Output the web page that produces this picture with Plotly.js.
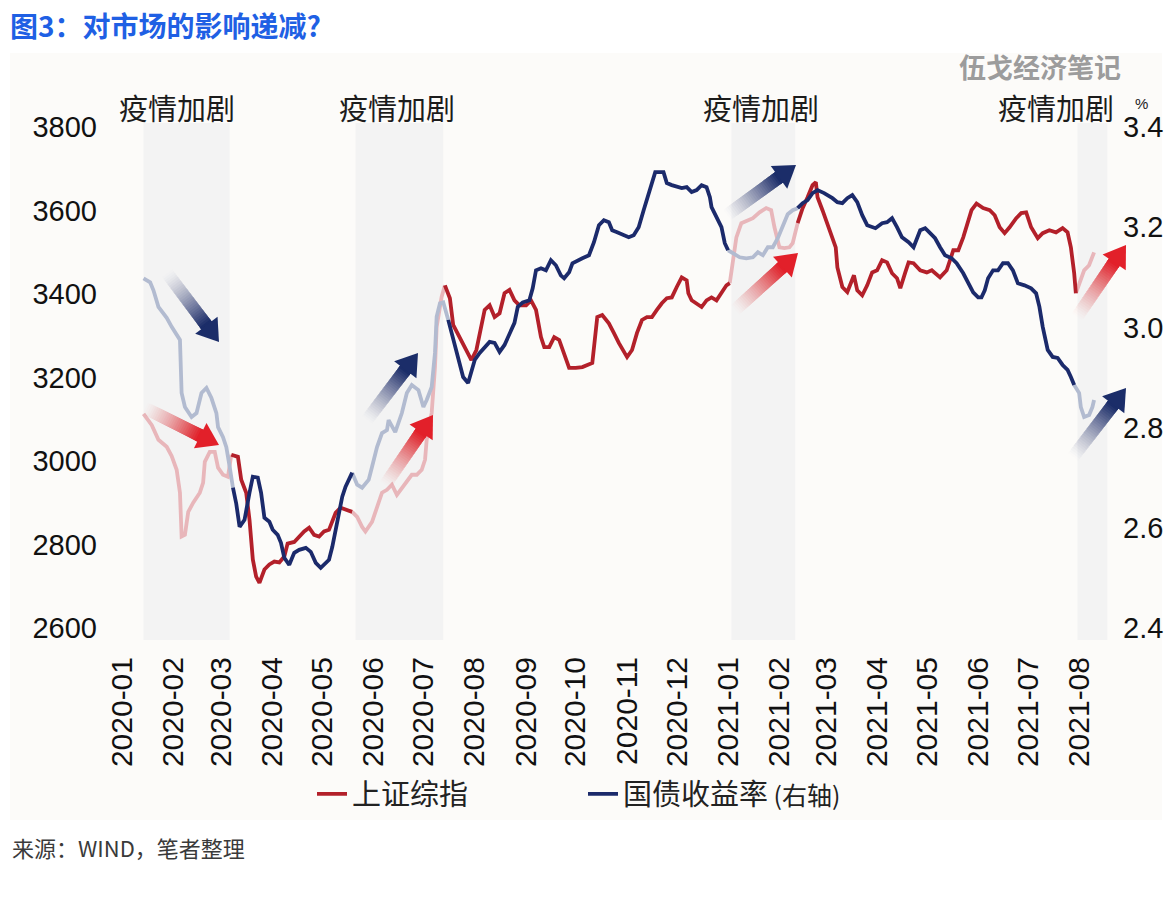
<!DOCTYPE html>
<html><head><meta charset="utf-8">
<script src="https://cdn.plot.ly/plotly-3.0.1.min.js"></script>
<style>html,body{margin:0;padding:0;background:#fff;}#chart{width:1174px;height:902px;}</style>
</head><body><div id="chart"></div>
<script>
// ---------------- DATA ----------------
const shDates = ['2020-01-14','2020-01-19','2020-01-23','2020-01-28','2020-01-31','2020-02-03','2020-02-05','2020-02-06','2020-02-08','2020-02-10','2020-02-13','2020-02-17','2020-02-19','2020-02-20','2020-02-23','2020-02-26','2020-02-28','2020-03-02','2020-03-05',
'2020-03-07','2020-03-11','2020-03-13','2020-03-16','2020-03-18','2020-03-20','2020-03-22','2020-03-24','2020-03-27','2020-03-30','2020-04-02','2020-04-05','2020-04-08','2020-04-10','2020-04-14','2020-04-17','2020-04-20','2020-04-23','2020-04-26','2020-04-29','2020-05-02','2020-05-05','2020-05-07','2020-05-09','2020-05-12','2020-05-15','2020-05-19',
'2020-05-22','2020-05-25','2020-05-27','2020-05-31','2020-06-03','2020-06-06','2020-06-09','2020-06-12','2020-06-15','2020-06-18','2020-06-21','2020-06-24','2020-06-27','2020-06-30','2020-07-02','2020-07-03','2020-07-06','2020-07-08','2020-07-09','2020-07-12',
'2020-07-14','2020-07-17','2020-07-19','2020-07-22','2020-07-25','2020-07-28','2020-07-30','2020-08-02','2020-08-05','2020-08-07','2020-08-10','2020-08-13','2020-08-16','2020-08-19','2020-08-22','2020-08-25','2020-08-28','2020-09-01','2020-09-04','2020-09-07','2020-09-10','2020-09-12','2020-09-15','2020-09-18','2020-09-21','2020-09-24','2020-09-27','2020-10-01','2020-10-05','2020-10-11','2020-10-14','2020-10-17','2020-10-21','2020-10-24','2020-10-27','2020-11-01','2020-11-04','2020-11-07','2020-11-10','2020-11-13','2020-11-16','2020-11-19','2020-11-22','2020-11-25','2020-11-28','2020-12-01','2020-12-04','2020-12-07','2020-12-08','2020-12-10','2020-12-13','2020-12-16','2020-12-19','2020-12-22','2020-12-25','2020-12-28','2020-12-31','2021-01-02',
'2021-01-04','2021-01-06','2021-01-09','2021-01-13','2021-01-16','2021-01-20','2021-01-24','2021-01-27','2021-01-29','2021-02-01','2021-02-04','2021-02-07','2021-02-09',
'2021-02-12','2021-02-15','2021-02-18','2021-02-21','2021-02-23','2021-02-24','2021-02-27','2021-03-02','2021-03-05','2021-03-07','2021-03-08','2021-03-11','2021-03-14','2021-03-17','2021-03-18','2021-03-20','2021-03-23','2021-03-26','2021-03-29','2021-04-01','2021-04-04','2021-04-07','2021-04-10','2021-04-13','2021-04-15','2021-04-18','2021-04-20','2021-04-23','2021-04-27','2021-05-01','2021-05-04','2021-05-09','2021-05-13','2021-05-17','2021-05-20','2021-05-23','2021-05-25','2021-05-28','2021-05-31','2021-06-04','2021-06-08','2021-06-11','2021-06-14','2021-06-17','2021-06-20','2021-06-24','2021-06-27','2021-06-30','2021-07-03','2021-07-07','2021-07-10','2021-07-14','2021-07-18','2021-07-22','2021-07-25','2021-07-27','2021-07-29','2021-07-30',
'2021-08-02','2021-08-04','2021-08-07','2021-08-09','2021-08-10'];
const shValues = [3113,3086,3051,3034,3012,2979,2924,2819,2823,2878,2900,2924,2948,2998,3022,3022,2984,2967,2962,
3015,3010,2955,2924,2859,2764,2723,2708,2740,2752,2759,2757,2771,2802,2806,2819,2831,2840,2823,2819,2831,2835,2859,2876,2888,2883,2878,
2866,2842,2831,2854,2890,2924,2931,2943,2919,2936,2950,2967,2967,2979,3003,3051,3115,3225,3321,3393,
3421,3390,3326,3302,3283,3259,3242,3266,3321,3362,3373,3345,3354,3402,3410,3385,3373,3373,3385,3362,3297,3273,3273,3297,3290,3259,3223,3223,3225,3235,3345,3350,3330,3307,3283,3249,3266,3307,3338,3345,3345,3362,3378,3390,3392,3417,3440,3433,3402,3385,3378,3369,3385,3392,3385,3402,3421,3426,
3481,3536,3570,3577,3582,3596,3606,3601,3560,3512,3510,3512,3522,
3570,3606,3632,3661,3668,3632,3601,3570,3536,3512,3464,3417,3405,3440,3445,3409,3397,3421,3452,3457,3481,3476,3450,3438,3414,3452,3476,3474,3457,3452,3457,3440,3457,3505,3505,3536,3560,3601,3617,3606,3601,3589,3560,3546,3560,3582,3594,3596,3560,3534,3546,3553,3548,3558,3548,3512,3450,3402,
3433,3457,3469,3488,3500];

const bondDates = ['2020-01-14','2020-01-18','2020-01-20','2020-01-23','2020-01-28','2020-01-31','2020-02-05','2020-02-06','2020-02-08','2020-02-12','2020-02-15','2020-02-18','2020-02-21','2020-02-24','2020-02-27','2020-02-28','2020-03-02','2020-03-04','2020-03-06',
'2020-03-08','2020-03-10','2020-03-12','2020-03-15','2020-03-18','2020-03-20','2020-03-23','2020-03-25','2020-03-27','2020-03-30','2020-04-01','2020-04-04','2020-04-06','2020-04-08','2020-04-11','2020-04-14','2020-04-17','2020-04-21','2020-04-24','2020-04-27','2020-04-30','2020-05-03','2020-05-05','2020-05-07','2020-05-09','2020-05-11','2020-05-13','2020-05-15','2020-05-17','2020-05-19',
'2020-05-22','2020-05-25','2020-05-29','2020-05-31','2020-06-03','2020-06-06','2020-06-09','2020-06-10','2020-06-14','2020-06-18','2020-06-21','2020-06-24','2020-06-28','2020-07-01','2020-07-03','2020-07-06','2020-07-08','2020-07-09','2020-07-11','2020-07-13',
'2020-07-16','2020-07-19','2020-07-22','2020-07-25','2020-07-28','2020-07-30','2020-08-01','2020-08-04','2020-08-07','2020-08-10','2020-08-13','2020-08-16','2020-08-19','2020-08-22','2020-08-25','2020-08-27','2020-08-30','2020-09-03','2020-09-05','2020-09-07','2020-09-10','2020-09-13','2020-09-16','2020-09-19','2020-09-22','2020-09-24','2020-09-27','2020-09-29','2020-10-02','2020-10-05','2020-10-09','2020-10-12','2020-10-15','2020-10-18','2020-10-21','2020-10-23','2020-10-26','2020-10-30','2020-11-02','2020-11-05','2020-11-08','2020-11-11','2020-11-14','2020-11-16','2020-11-18','2020-11-23','2020-11-25','2020-11-28','2020-12-01','2020-12-04','2020-12-07','2020-12-10','2020-12-13','2020-12-16','2020-12-19','2020-12-21','2020-12-22','2020-12-25','2020-12-28','2020-12-30','2021-01-01',
'2021-01-04','2021-01-08','2021-01-12','2021-01-16','2021-01-19','2021-01-22','2021-01-25','2021-01-28','2021-01-31','2021-02-03','2021-02-06','2021-02-09',
'2021-02-12','2021-02-15','2021-02-18','2021-02-21','2021-02-24','2021-02-28','2021-03-05','2021-03-08','2021-03-11','2021-03-14','2021-03-17','2021-03-20','2021-03-23','2021-03-26','2021-03-31','2021-04-04','2021-04-07','2021-04-10','2021-04-13','2021-04-16','2021-04-20','2021-04-23','2021-04-27','2021-04-30','2021-05-03','2021-05-06','2021-05-09','2021-05-12','2021-05-16','2021-05-19','2021-05-23','2021-05-26','2021-05-29','2021-06-01','2021-06-03','2021-06-05','2021-06-07','2021-06-10','2021-06-13','2021-06-16','2021-06-19','2021-06-22','2021-06-25','2021-06-29','2021-07-03','2021-07-06','2021-07-08','2021-07-10','2021-07-13','2021-07-16','2021-07-19','2021-07-22','2021-07-25','2021-07-27','2021-07-29',
'2021-08-01','2021-08-02','2021-08-04','2021-08-07','2021-08-09','2021-08-10'];
const bondValues = [3.098,3.090,3.074,3.041,3.019,3.001,2.975,2.869,2.841,2.821,2.829,2.869,2.879,2.859,2.829,2.801,2.781,2.761,2.722,
2.680,2.648,2.602,2.616,2.670,2.702,2.700,2.670,2.620,2.612,2.596,2.586,2.570,2.540,2.526,2.550,2.556,2.560,2.552,2.530,2.520,2.530,2.536,2.562,2.596,2.630,2.662,2.682,2.696,2.710,
2.686,2.680,2.696,2.722,2.761,2.789,2.795,2.815,2.791,2.829,2.869,2.885,2.875,2.841,2.855,2.881,2.949,3.021,3.048,3.050,
3.015,2.975,2.935,2.901,2.889,2.909,2.935,2.949,2.961,2.971,2.969,2.951,2.965,2.985,3.009,3.041,3.050,3.054,3.078,3.114,3.118,3.114,3.134,3.124,3.104,3.098,3.110,3.128,3.134,3.138,3.144,3.170,3.204,3.214,3.210,3.194,3.190,3.184,3.180,3.184,3.200,3.234,3.268,3.294,3.310,3.310,3.288,3.284,3.280,3.278,3.280,3.270,3.274,3.284,3.280,3.260,3.240,3.220,3.200,3.168,3.154,
3.148,3.140,3.138,3.140,3.150,3.144,3.160,3.160,3.178,3.200,3.226,3.234,
3.238,3.248,3.254,3.268,3.274,3.268,3.258,3.250,3.248,3.258,3.264,3.250,3.224,3.204,3.198,3.208,3.210,3.218,3.200,3.180,3.170,3.160,3.194,3.198,3.188,3.178,3.160,3.144,3.138,3.128,3.108,3.088,3.070,3.060,3.060,3.074,3.098,3.114,3.114,3.128,3.128,3.114,3.088,3.084,3.078,3.068,3.041,3.001,2.955,2.941,2.939,2.925,2.915,2.901,2.885,
2.869,2.841,2.821,2.825,2.841,2.855];

const monthTicks = ['2020-01-01','2020-02-01','2020-03-01','2020-04-01','2020-05-01','2020-06-01','2020-07-01','2020-08-01','2020-09-01','2020-10-01','2020-11-01','2020-12-01','2021-01-01','2021-02-01','2021-03-01','2021-04-01','2021-05-01','2021-06-01','2021-07-01','2021-08-01'];
const monthLabels = ['2020-01','2020-02','2020-03','2020-04','2020-05','2020-06','2020-07','2020-08','2020-09','2020-10','2020-11','2020-12','2021-01','2021-02','2021-03','2021-04','2021-05','2021-06','2021-07','2021-08'];
const leftTicks = [2600,2800,3000,3200,3400,3600,3800];
const rightTicks = [2.4,2.6,2.8,3.0,3.2,3.4];
const shadeStarts = ['2020-01-14','2020-05-21','2021-01-03','2021-07-31'];
const shadeEnds = ['2020-03-06','2020-07-13','2021-02-10 12:00','2021-08-18'];
const seriesNames = ['上证综指','国债收益率<span style="font-size:25px"> (右轴)</span>'];
const shadeText = '疫情加剧';
const titleText = '图3：对市场的影响递减?';
const sourceText = '来源：WIND，笔者整理';
const watermarkText = '伍戈经济笔记';

// ---------------- HELPERS ----------------
function ms(s){const p=s.split(' ');const d=p[0].split('-').map(Number);let h=0,m=0;if(p[1]){const t=p[1].split(':').map(Number);h=t[0];m=t[1];}return Date.UTC(d[0],d[1]-1,d[2],h,m);}
function inShade(s){const t=ms(s);for(let i=0;i<shadeStarts.length;i++){if(t>=ms(shadeStarts[i])&&t<=ms(shadeEnds[i]))return true;}return false;}
function split(dates,vals){
  const f=dates.map(inShade);
  return {
    solid: vals.map((v,i)=>f[i]?null:v),
    faded: vals.map((v,i)=>(f[i]||(i>0&&f[i-1])||(i<vals.length-1&&f[i+1]))?v:null)
  };
}
const W=1174,H=902,L=108,R=1112,T=123,B=640;
function px(X){return (X-L)/(R-L);}
function py(Y){return (B-Y)/(B-T);}

// gradient arrow: stacked translucent layers, each reaching from a point on the shaft to the head
function gradArrow(t,h,rgb){
  const out=[];
  const dx=h[0]-t[0],dy=h[1]-t[1],len=Math.hypot(dx,dy);
  const ux=dx/len,uy=dy/len,nx=-uy,ny=ux;
  const headLen=21,headW=14,shaftW=6.5,base=len-headLen,N=28;
  const pt=(s,o)=>[t[0]+ux*s+nx*o,t[1]+uy*s+ny*o];
  const path=pts=>'M'+pts.map(p=>px(p[0]).toFixed(5)+','+py(p[1]).toFixed(5)).join(' L')+' Z';
  let prev=0;
  for(let k=0;k<N;k++){
    const s0=base*k/N;
    const target=Math.min(1,Math.pow((k+1)/N,1.4));
    const a=prev>=1?0:1-(1-target)/(1-prev);
    prev=target;
    if(a<=0) continue;
    out.push({type:'path',xref:'paper',yref:'paper',layer:'above',
      path:path([pt(s0,-shaftW),pt(base+0.5,-shaftW),pt(base+0.5,shaftW),pt(s0,shaftW)]),
      fillcolor:'rgba('+rgb+','+a.toFixed(4)+')',line:{width:0}});
  }
  out.push({type:'path',xref:'paper',yref:'paper',layer:'above',
    path:path([pt(base,-headW),h,pt(base,headW)]),fillcolor:'rgb('+rgb+')',line:{width:0}});
  return out;
}

// ---------------- TRACES ----------------
const RED='#B3202A',BLUE='#1B2A6B',RED_F='#E8B6BA',BLUE_F='#B2BBD0';
const sh=split(shDates,shValues), bd=split(bondDates,bondValues);
const traces=[
  {x:shDates,y:sh.faded,type:'scatter',mode:'lines',line:{color:RED_F,width:3.8},showlegend:false,hoverinfo:'skip'},
  {x:bondDates,y:bd.faded,type:'scatter',mode:'lines',yaxis:'y2',line:{color:BLUE_F,width:3.8},showlegend:false,hoverinfo:'skip'},
  {x:shDates,y:sh.solid,type:'scatter',mode:'lines',name:seriesNames[0],line:{color:RED,width:3.8}},
  {x:bondDates,y:bd.solid,type:'scatter',mode:'lines',yaxis:'y2',name:seriesNames[1],line:{color:BLUE,width:3.8}}
];

// ---------------- LAYOUT ----------------
const shapes=[{type:'rect',xref:'paper',yref:'paper',x0:px(10),x1:px(1162),y0:py(820),y1:py(53),fillcolor:'#FCFBF9',line:{width:0},layer:'below'}];
for(let i=0;i<shadeStarts.length;i++){
  shapes.push({type:'rect',xref:'x',yref:'paper',x0:shadeStarts[i],x1:shadeEnds[i],y0:0,y1:1,fillcolor:'#F3F3F3',line:{width:0},layer:'below'});
}
const BLUE_A='27,45,105',RED_A='226,32,42';
[[[167,273],[219,342],BLUE_A],[[145,408],[219,445],RED_A],[[367,420],[418,353],BLUE_A],[[385,485],[433,415],RED_A],
 [[727,215],[796,165],BLUE_A],[[735,310],[798,253],RED_A],[[1077,317],[1126,245],RED_A],[[1073,457],[1126,388],BLUE_A]]
 .forEach(a=>gradArrow(a[0],a[1],a[2]).forEach(s=>shapes.push(s)));

const CJK='"Noto Sans CJK SC", "Noto Sans", sans-serif';
const NUM='"Liberation Sans", Arial, sans-serif';
const labelX=['2020-02-03','2020-06-15','2021-01-21','2021-07-18'];
const annotations=labelX.map(d=>({x:d,xref:'x',y:py(107),yref:'paper',text:shadeText,showarrow:false,xanchor:'center',yanchor:'middle',font:{family:CJK,size:29,color:'#1c1c1c'}}));
annotations.push({x:px(1141),y:py(104),xref:'paper',yref:'paper',text:'%',showarrow:false,xanchor:'center',yanchor:'middle',font:{family:NUM,size:15,color:'#222'}});
annotations.push({x:px(1040),y:py(66),xref:'paper',yref:'paper',text:'<b>'+watermarkText+'</b>',showarrow:false,xanchor:'center',yanchor:'middle',font:{family:CJK,size:27,color:'#9C9C9C'}});
annotations.push({x:px(10),y:py(847),xref:'paper',yref:'paper',text:sourceText,showarrow:false,xanchor:'left',yanchor:'middle',font:{family:CJK,size:22,color:'#3a3a3a'}});

const layout={
  width:W,height:H,margin:{l:L,r:W-R,t:T,b:H-B,pad:0},
  paper_bgcolor:'#ffffff',plot_bgcolor:'rgba(0,0,0,0)',
  title:{text:'<b>'+titleText+'</b>',x:10/W,xref:'container',xanchor:'left',y:1-27/H,yref:'container',yanchor:'middle',font:{family:CJK,size:28,color:'#1F60E4'}},
  xaxis:{type:'date',range:['2019-12-23 13:06','2021-08-20 19:55'],tickmode:'array',tickvals:monthTicks,ticktext:monthLabels,tickangle:-90,
    tickfont:{family:NUM,size:30,color:'#111'},showgrid:false,zeroline:false,showline:false,ticks:'',ticklabelstandoff:10},
  yaxis:{range:[2571,3810],tickmode:'array',tickvals:leftTicks,ticktext:leftTicks.map(String),tickfont:{family:NUM,size:29,color:'#111'},
    showgrid:false,zeroline:false,showline:false,ticks:'',ticklabelstandoff:10},
  yaxis2:{range:[2.376,3.408],overlaying:'y',side:'right',tickmode:'array',tickvals:rightTicks,ticktext:rightTicks.map(v=>v.toFixed(1)),
    tickfont:{family:NUM,size:29,color:'#111'},showgrid:false,zeroline:false,showline:false,ticks:'',ticklabelstandoff:10},
  legend:{orientation:'h',x:px(312),xanchor:'left',y:py(794),yanchor:'middle',font:{family:CJK,size:29,color:'#222'},
    bgcolor:'rgba(0,0,0,0)',entrywidth:226,entrywidthmode:'pixels',itemwidth:30},
  shapes:shapes,annotations:annotations,showlegend:true
};
Plotly.newPlot('chart',traces,layout,{displayModeBar:false,staticPlot:true});
</script>
</body></html>
